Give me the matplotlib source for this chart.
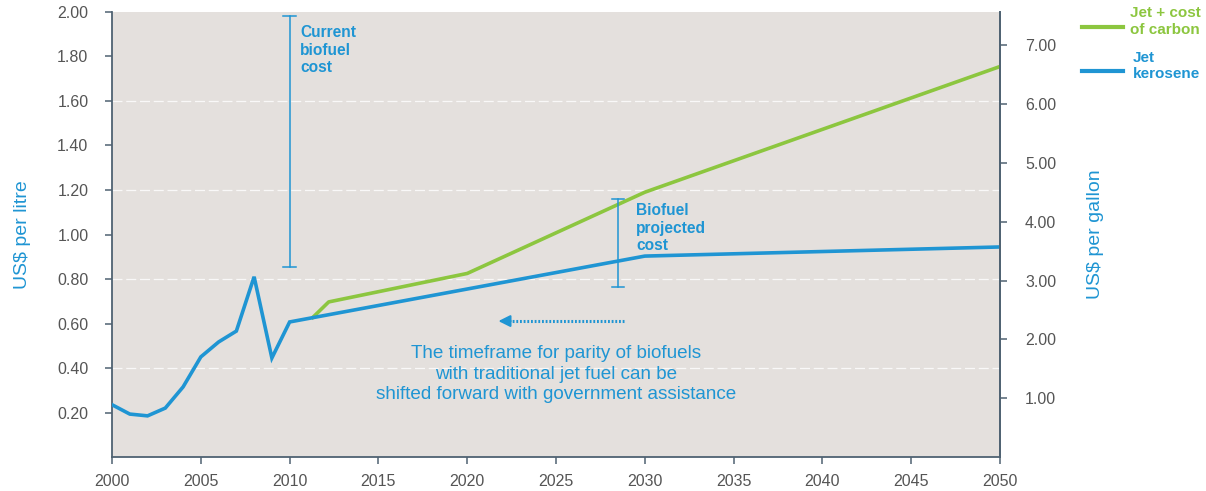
import matplotlib
matplotlib.use("Agg")
import matplotlib.pyplot as plt
import matplotlib.lines as mlines

plt.rcParams["font.family"] = ["Liberation Sans", "DejaVu Sans"]

BLUE = "#1f95d3"
GREEN = "#8cc63f"
BG = "#e4e0dd"
SPINE = "#4f6272"
TICK = "#555555"

# Jet kerosene (US$ per litre)
jet_years = [2000, 2001, 2002, 2003, 2004, 2005, 2006, 2007, 2008, 2009, 2010, 2030, 2050]
jet_price = [0.235, 0.193, 0.185, 0.22, 0.315, 0.45, 0.517, 0.566, 0.81, 0.445, 0.607, 0.903, 0.944]

# Jet + cost of carbon
carbon_years = [2011.3, 2012.2, 2020, 2030, 2050]
carbon_price = [0.627, 0.697, 0.825, 1.19, 1.755]

# biofuel cost ranges (year, low, high)
current_bio = (2010, 0.855, 1.98)
projected_bio = (2028.5, 0.765, 1.16)

LITRES_PER_GALLON = 3.785

fig = plt.figure(figsize=(12.06, 4.91), dpi=100)
ax = fig.add_axes([0.0929, 0.0692, 0.7363, 0.9064])
ax.set_facecolor(BG)

ax.plot(jet_years, jet_price, color=BLUE, lw=2.6, solid_joinstyle="miter", zorder=4)
ax.plot(carbon_years, carbon_price, color=GREEN, lw=2.6, zorder=3)

# error-bar style ranges
for x, lo, hi in [current_bio, projected_bio]:
    ax.plot([x, x], [lo, hi], color=BLUE, lw=1.1, zorder=5)
    for yy in (lo, hi):
        ax.plot([x - 0.35, x + 0.35], [yy, yy], color=BLUE, lw=1.1, zorder=5)

ax.text(2010.6, 1.94, "Current\nbiofuel\ncost", color=BLUE, fontsize=11.2, fontweight="bold",
        va="top", ha="left", linespacing=1.2)
ax.text(2029.5, 1.14, "Biofuel\nprojected\ncost", color=BLUE, fontsize=11.2, fontweight="bold",
        va="top", ha="left", linespacing=1.2)

# dotted arrow
ax.plot([2028.8, 2022.2], [0.611, 0.611], color=BLUE, lw=2.2, ls=(0, (0.6, 0.6)), zorder=5)
ax.annotate("", xy=(2021.6, 0.611), xytext=(2022.6, 0.611),
            arrowprops=dict(arrowstyle="-|>,head_length=0.7,head_width=0.35", color=BLUE, lw=1.5))

ax.text(2025.0, 0.373, "The timeframe for parity of biofuels\nwith traditional jet fuel can be\nshifted forward with government assistance",
        color=BLUE, fontsize=13.6, ha="center", va="center", linespacing=1.25)

ax.set_xlim(2000, 2050)
ax.set_ylim(0, 2.0)
ax.set_xticks(range(2000, 2051, 5))
ax.set_yticks([0.2, 0.4, 0.6, 0.8, 1.0, 1.2, 1.4, 1.6, 1.8, 2.0])
ax.set_yticklabels([f"{v:.2f}" for v in ax.get_yticks()])
for g in [0.4, 0.8, 1.2, 1.6]:
    ax.axhline(g, color="white", lw=0.9, ls=(0, (8, 3)), alpha=0.8, zorder=1)

for s in ["top"]:
    ax.spines[s].set_visible(False)
for s in ["left", "bottom", "right"]:
    ax.spines[s].set_color(SPINE)
    ax.spines[s].set_linewidth(1.3)
ax.tick_params(colors=SPINE, labelcolor=TICK, labelsize=11.5, length=5, width=1.1)
ax.tick_params(axis="y", pad=12)
ax.tick_params(axis="x", pad=7)
ax.set_ylabel("US$ per litre", color=BLUE, fontsize=14, labelpad=19)

ax2 = ax.twinx()
ax2.set_ylim(0, 2.0 * LITRES_PER_GALLON)
ax2.set_yticks([1, 2, 3, 4, 5, 6, 7])
ax2.set_yticklabels([f"{v:.2f}" for v in ax2.get_yticks()])
for s in ["top", "left", "bottom"]:
    ax2.spines[s].set_visible(False)
ax2.spines["right"].set_color(SPINE)
ax2.spines["right"].set_linewidth(1.3)
ax2.tick_params(colors=SPINE, labelcolor=TICK, labelsize=11.5, length=5, width=1.1, pad=13)
ax2.set_ylabel("US$ per gallon", color=BLUE, fontsize=14, labelpad=22)

# legend drawn outside the axes
fig.add_artist(mlines.Line2D([0.897, 0.931], [0.945, 0.945], color=GREEN, lw=3, transform=fig.transFigure))
fig.add_artist(mlines.Line2D([0.897, 0.931], [0.855, 0.855], color=BLUE, lw=3, transform=fig.transFigure))
fig.text(0.937, 0.988, "Jet + cost\nof carbon", color=GREEN, fontsize=11, fontweight="bold",
         va="top", ha="left", linespacing=1.25)
fig.text(0.939, 0.897, "Jet\nkerosene", color=BLUE, fontsize=11, fontweight="bold",
         va="top", ha="left", linespacing=1.25)

fig.savefig("out.png", dpi=100)
